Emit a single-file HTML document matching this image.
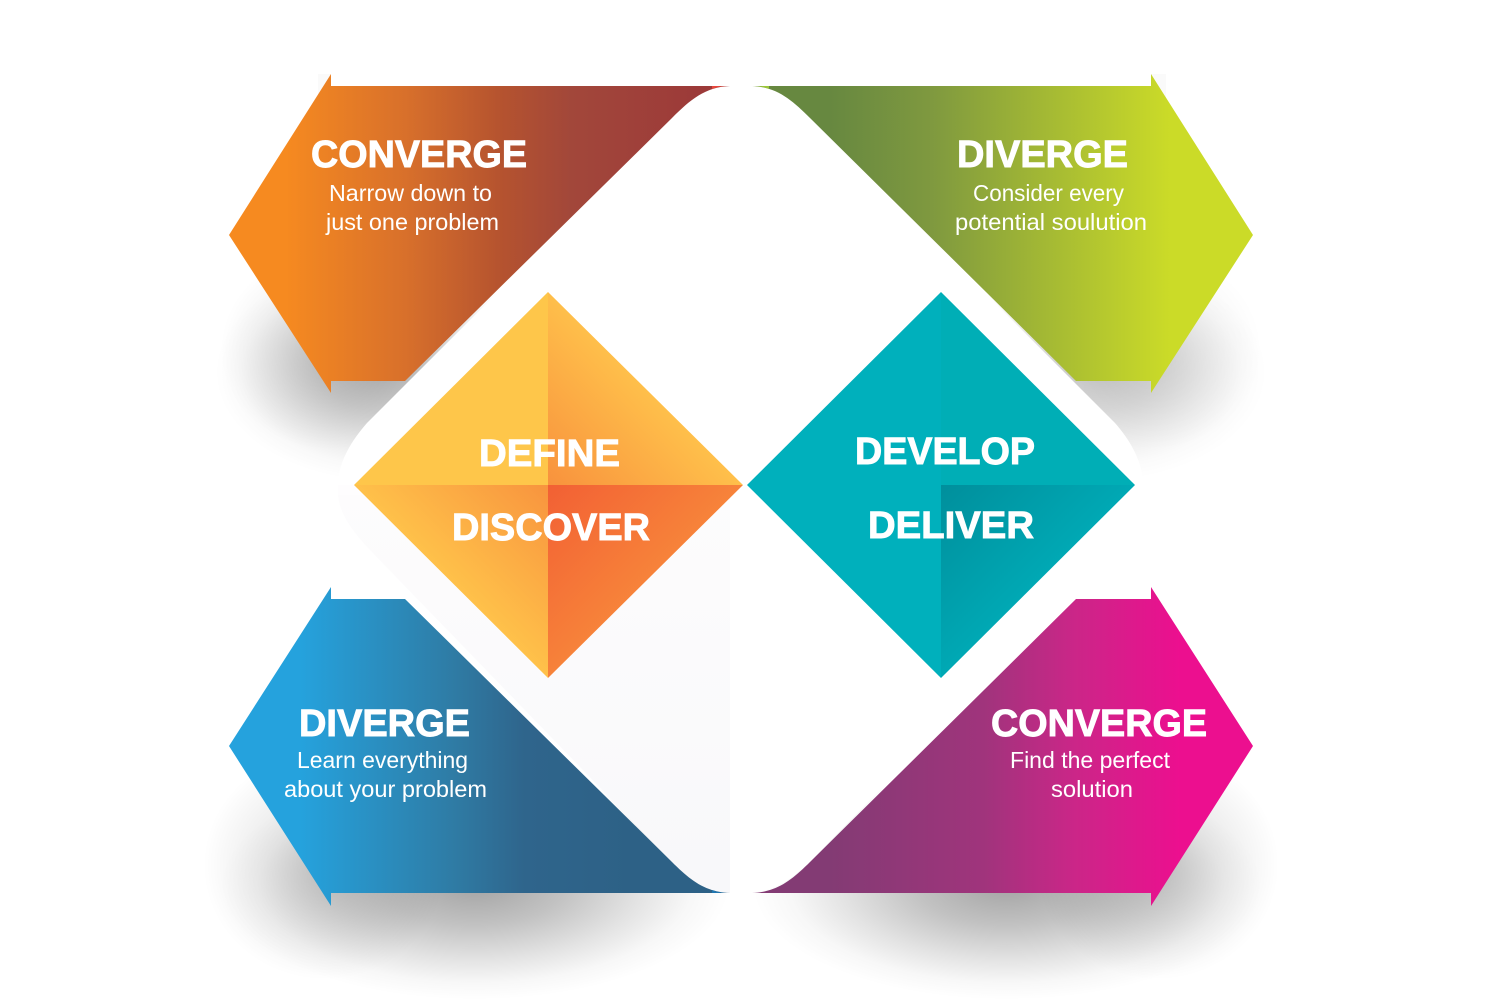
<!DOCTYPE html>
<html><head><meta charset="utf-8"><style>
html,body{margin:0;padding:0;background:#fff}
svg{display:block}
.h{font-family:"Liberation Sans",sans-serif;font-weight:700;font-size:38px;fill:#fff;stroke:#fff;stroke-width:.9px;font-kerning:none}
.b{font-family:"Liberation Sans",sans-serif;font-size:23px;fill:#fff}
</style></head><body>
<svg width="1500" height="1000" viewBox="0 0 1500 1000" xmlns="http://www.w3.org/2000/svg">
<defs>
<linearGradient id="gTL" gradientUnits="userSpaceOnUse" x1="285" y1="0" x2="700" y2="0"><stop offset="0" stop-color="#f68a20"/><stop offset=".29" stop-color="#d8702b"/><stop offset=".52" stop-color="#b5532f"/><stop offset=".69" stop-color="#a2473a"/><stop offset="1" stop-color="#9c3a39"/></linearGradient>
<linearGradient id="gTR" gradientUnits="userSpaceOnUse" x1="830" y1="0" x2="1170" y2="0"><stop offset="0" stop-color="#678840"/><stop offset=".3" stop-color="#7f993f"/><stop offset="1" stop-color="#cbdb28"/></linearGradient>
<linearGradient id="gBL" gradientUnits="userSpaceOnUse" x1="300" y1="0" x2="630" y2="0"><stop offset="0" stop-color="#25a2dd"/><stop offset=".47" stop-color="#2f7ba4"/><stop offset=".68" stop-color="#2f658c"/><stop offset="1" stop-color="#2d6186"/></linearGradient>
<linearGradient id="gBR" gradientUnits="userSpaceOnUse" x1="830" y1="0" x2="1180" y2="0"><stop offset="0" stop-color="#833b74"/><stop offset=".44" stop-color="#a0347c"/><stop offset=".7" stop-color="#cb2688"/><stop offset="1" stop-color="#ec0f8f"/></linearGradient>
<linearGradient id="gPanel" gradientUnits="userSpaceOnUse" x1="0" y1="485" x2="0" y2="893"><stop offset="0" stop-color="#fdfcfd"/><stop offset="1" stop-color="#f8f8fa"/></linearGradient>
<linearGradient id="d1" gradientUnits="userSpaceOnUse" x1="548" y1="485" x2="650" y2="385"><stop offset="0" stop-color="#f8923d"/><stop offset="1" stop-color="#ffc14b"/></linearGradient>
<linearGradient id="d2" gradientUnits="userSpaceOnUse" x1="548" y1="485" x2="450" y2="585"><stop offset="0" stop-color="#f8943e"/><stop offset="1" stop-color="#ffc24a"/></linearGradient>
<linearGradient id="d3" gradientUnits="userSpaceOnUse" x1="548" y1="485" x2="650" y2="585"><stop offset="0" stop-color="#f26034"/><stop offset="1" stop-color="#f7843a"/></linearGradient>
<linearGradient id="d4" gradientUnits="userSpaceOnUse" x1="941" y1="485" x2="1040" y2="585"><stop offset="0" stop-color="#008f9c"/><stop offset="1" stop-color="#00a9b5"/></linearGradient>
<radialGradient id="sMain"><stop offset="0" stop-color="#000" stop-opacity=".36"/><stop offset=".35" stop-color="#000" stop-opacity=".24"/><stop offset=".65" stop-color="#000" stop-opacity=".11"/><stop offset=".85" stop-color="#000" stop-opacity=".03"/><stop offset="1" stop-color="#000" stop-opacity="0"/></radialGradient>
<radialGradient id="sLobe"><stop offset="0" stop-color="#000" stop-opacity=".16"/><stop offset=".5" stop-color="#000" stop-opacity=".08"/><stop offset="1" stop-color="#000" stop-opacity="0"/></radialGradient>
</defs>
<rect width="1500" height="1000" fill="#fff"/>

<!-- shadows -->
<ellipse cx="475" cy="885" rx="255" ry="115" fill="url(#sMain)"/>
<ellipse cx="1007" cy="885" rx="255" ry="115" fill="url(#sMain)"/>
<ellipse cx="325" cy="865" rx="122" ry="115" fill="url(#sLobe)"/>
<ellipse cx="1157" cy="865" rx="122" ry="115" fill="url(#sLobe)"/>
<ellipse cx="385" cy="372" rx="170" ry="110" fill="url(#sMain)" opacity=".8"/>
<ellipse cx="1097" cy="372" rx="170" ry="110" fill="url(#sMain)" opacity=".6"/>
<ellipse cx="330" cy="350" rx="110" ry="100" fill="url(#sLobe)" opacity=".8"/>
<ellipse cx="1152" cy="350" rx="110" ry="100" fill="url(#sLobe)" opacity=".5"/>
<path d="M331,74 L318,74 L318,95 Z" fill="#fafafa"/>
<path d="M1151,74 L1166,74 L1166,98 Z" fill="#fafafa"/>

<!-- central shape -->
<path d="M741,86 C775,86 790,98 810,118 L1115,423 C1130,440 1143,462 1143,485 C1143,508 1130,530 1115,547 L810,862 C790,880 775,893 741,893 C707,893 692,880 672,862 L367,547 C352,530 338,508 338,485 C338,462 352,440 367,423 L672,118 C692,98 707,86 741,86 Z" fill="#fff"/>
<path d="M338,495 C340,515 352,530 367,547 L672,862 C692,880 707,893 730,893 L730,495 Z" fill="url(#gPanel)"/>
<rect x="338" y="485" width="392" height="12" fill="#fdfcfd" opacity=".6"/>

<!-- arrows -->
<path d="M331,74 L331,86 L730,86 C705,87 690,100 672,118 L405,381 L331,381 L331,393 L229,235 Z" fill="url(#gTL)"/>
<path d="M1151,74 L1151,86 L752,86 C777,87 792,100 810,118 L1076,381 L1151,381 L1151,393 L1253,235 Z" fill="url(#gTR)"/>
<path d="M331,587 L331,599 L405,599 L672,862 C690,880 705,892 730,893 L331,893 L331,906 L229,746 Z" fill="url(#gBL)"/>
<path d="M1151,587 L1151,599 L1076,599 L810,862 C792,880 777,892 752,893 L1151,893 L1151,906 L1253,746 Z" fill="url(#gBR)"/>
<path d="M712,86 L729,86 C722,86 717,87 712,89 Z" fill="#e8473c"/>
<path d="M753,86 L769,86 L769,89 C764,87 758,86 753,86 Z" fill="#9cc63b"/>
<path d="M712,893 L729,893 C722,893 717,892 712,890 Z" fill="#1f76b0"/>

<!-- left diamond -->
<path d="M548,292 L548,485 L354,485 Z" fill="#fec64a"/>
<path d="M548,292 L743,485 L548,485 Z" fill="url(#d1)"/>
<path d="M354,485 L548,485 L548,678 Z" fill="url(#d2)"/>
<path d="M548,485 L743,485 L548,678 Z" fill="url(#d3)"/>

<!-- right diamond -->
<path d="M941,292 L941,485 L747,485 Z" fill="#00b0bc"/>
<path d="M941,292 L1135,485 L941,485 Z" fill="#00aeb6"/>
<path d="M747,485 L941,485 L941,678 Z" fill="#00b0bc"/>
<path d="M941,485 L1135,485 L941,678 Z" fill="url(#d4)"/>

<!-- headings -->
<text class="h" x="311" y="167" textLength="216" lengthAdjust="spacingAndGlyphs">CONVERGE</text>
<text class="h" x="957" y="167" textLength="171" lengthAdjust="spacingAndGlyphs">DIVERGE</text>
<text class="h" x="299" y="736" textLength="171" lengthAdjust="spacingAndGlyphs">DIVERGE</text>
<text class="h" x="991" y="736" textLength="216" lengthAdjust="spacingAndGlyphs">CONVERGE</text>
<text class="h" x="479" y="466" textLength="141" lengthAdjust="spacingAndGlyphs">DEFINE</text>
<text class="h" x="452" y="540" textLength="198" lengthAdjust="spacingAndGlyphs">DISCOVER</text>
<text class="h" x="855" y="464" textLength="180" lengthAdjust="spacingAndGlyphs">DEVELOP</text>
<text class="h" x="868" y="538" textLength="166" lengthAdjust="spacingAndGlyphs">DELIVER</text>

<!-- body -->
<text class="b" x="329" y="201" textLength="163" lengthAdjust="spacingAndGlyphs">Narrow down to</text>
<text class="b" x="326" y="230" textLength="173" lengthAdjust="spacingAndGlyphs">just one problem</text>
<text class="b" x="973" y="201" textLength="151" lengthAdjust="spacingAndGlyphs">Consider every</text>
<text class="b" x="955" y="230" textLength="192" lengthAdjust="spacingAndGlyphs">potential soulution</text>
<text class="b" x="297" y="768" textLength="171" lengthAdjust="spacingAndGlyphs">Learn everything</text>
<text class="b" x="284" y="797" textLength="203" lengthAdjust="spacingAndGlyphs">about your problem</text>
<text class="b" x="1010" y="768" textLength="160" lengthAdjust="spacingAndGlyphs">Find the perfect</text>
<text class="b" x="1051" y="797" textLength="82" lengthAdjust="spacingAndGlyphs">solution</text>
</svg>
</body></html>
